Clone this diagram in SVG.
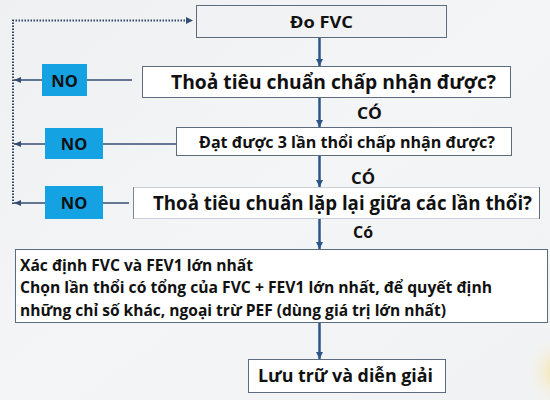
<svg xmlns="http://www.w3.org/2000/svg" width="550" height="400" viewBox="0 0 550 400">
  <defs>
    <linearGradient id="bg" x1="0" y1="0" x2="1" y2="1">
      <stop offset="0" stop-color="#eef0f2"/>
      <stop offset="0.5" stop-color="#f4f5f7"/>
      <stop offset="1" stop-color="#f1f2f4"/>
    </linearGradient>
    <radialGradient id="glow" cx="562" cy="372" r="36" gradientUnits="userSpaceOnUse">
      <stop offset="0" stop-color="#f7d77a" stop-opacity="0.85"/>
      <stop offset="0.5" stop-color="#f8e6a8" stop-opacity="0.4"/>
      <stop offset="1" stop-color="#f8f1dc" stop-opacity="0"/>
    </radialGradient>
    <marker id="down" markerUnits="userSpaceOnUse" markerWidth="8" markerHeight="8" refX="7" refY="4" orient="auto">
      <path d="M0,0.5 L7,4 L0,7.5 Z" fill="#2c5488"/>
    </marker>
    <marker id="left" markerUnits="userSpaceOnUse" markerWidth="8" markerHeight="8" refX="7" refY="4" orient="auto">
      <path d="M0,1 L7,4 L0,7 Z" fill="#344d70"/>
    </marker>
    <style>
      .box { fill: #ffffff; stroke: #5d6b7e; stroke-width: 1; }
      .no { fill: #14a2e3; }
      .t { font-family: "Open Sans", "Noto Sans", "DejaVu Sans", sans-serif; font-weight: bold; fill: #111111; }
      .flow { stroke: #2c5488; stroke-width: 2.5; fill: none; marker-end: url(#down); }
      .back { stroke: #344d70; stroke-width: 1.5; fill: none; }
      .dot { stroke: #2f4568; stroke-width: 2; fill: none; stroke-dasharray: 1.5 1.5; }
    </style>
  </defs>

  <!-- background -->
  <rect x="0" y="0" width="550" height="400" fill="url(#bg)"/>
  <rect x="480" y="320" width="70" height="80" fill="url(#glow)"/>

  <!-- connectors -->
  <g id="connectors">
    <line class="flow" x1="319.5" y1="37" x2="319.5" y2="66"/>
    <line class="flow" x1="319.5" y1="98" x2="319.5" y2="127"/>
    <line class="flow" x1="319.5" y1="156" x2="319.5" y2="187"/>
    <line class="flow" x1="319.5" y1="219" x2="319.5" y2="249"/>
    <line class="flow" x1="319.5" y1="323" x2="319.5" y2="359"/>

    <!-- "no" branches back to the left rail -->
    <line class="back" x1="132" y1="80" x2="87" y2="80"/>
    <line class="back" x1="42" y1="80" x2="14" y2="80" marker-end="url(#left)"/>
    <line class="back" x1="176" y1="144" x2="103" y2="144"/>
    <line class="back" x1="45" y1="144" x2="14" y2="144" marker-end="url(#left)"/>
    <line class="back" x1="129" y1="203" x2="103" y2="203"/>
    <line class="back" x1="45" y1="203" x2="14" y2="203" marker-end="url(#left)"/>

    <!-- dotted return loop to the start -->
    <path class="dot" d="M13,204 L13,20.5 L186,20.5"/>
    <path d="M186,17 L193,20.5 L186,24 Z" fill="#344d70"/>

    <!-- flow labels -->
    <text class="t" x="357" y="119" font-size="16.5" textLength="25" lengthAdjust="spacingAndGlyphs">CÓ</text>
    <text class="t" x="351" y="184" font-size="16.5" textLength="24" lengthAdjust="spacingAndGlyphs">CÓ</text>
    <text class="t" x="353" y="238" font-size="16.5" textLength="20" lengthAdjust="spacingAndGlyphs">Có</text>
  </g>

  <!-- nodes -->
  <g id="start">
    <rect x="196.5" y="5.5" width="250" height="32" fill="#f1f2f4" stroke="#5d6b7e" stroke-width="1"/>
    <text class="t" x="290" y="28" font-size="16.5" textLength="63" lengthAdjust="spacingAndGlyphs">Đo FVC</text>
  </g>

  <g id="check-acceptable">
    <rect class="box" x="142.5" y="66.5" width="368" height="31"/>
    <text class="t" x="171" y="89" font-size="19" textLength="325" lengthAdjust="spacingAndGlyphs">Thoả tiêu chuẩn chấp nhận được?</text>
  </g>

  <g id="check-three">
    <rect class="box" x="176.5" y="127.5" width="335" height="28"/>
    <text class="t" x="199" y="147.5" font-size="16" textLength="296" lengthAdjust="spacingAndGlyphs">Đạt được 3 lần thổi chấp nhận được?</text>
  </g>

  <g id="check-repeat">
    <rect x="133.5" y="187.5" width="406" height="31" fill="#ffffff" stroke="#c9d0d9" stroke-width="1"/>
    <line x1="133.5" y1="187" x2="133.5" y2="219" stroke="#7a8797" stroke-width="1"/>
    <line x1="539.5" y1="187" x2="539.5" y2="219" stroke="#5d6b7e" stroke-width="1"/>
    <text class="t" x="153" y="210" font-size="19" textLength="379" lengthAdjust="spacingAndGlyphs">Thoả tiêu chuẩn lặp lại giữa các lần thổi?</text>
  </g>

  <g id="no-1">
    <rect class="no" x="42" y="64" width="45" height="32"/>
    <text class="t" x="64.5" y="86.5" font-size="16.5" text-anchor="middle">NO</text>
  </g>
  <g id="no-2">
    <rect class="no" x="45" y="128" width="58" height="31"/>
    <text class="t" x="74" y="150" font-size="16.5" text-anchor="middle">NO</text>
  </g>
  <g id="no-3">
    <rect class="no" x="45" y="186" width="58" height="33"/>
    <text class="t" x="74" y="209" font-size="16.5" text-anchor="middle">NO</text>
  </g>

  <g id="select-best">
    <rect class="box" x="15.5" y="249.5" width="532" height="73"/>
    <text class="t" x="20" y="271" font-size="16" textLength="233" lengthAdjust="spacingAndGlyphs">Xác định FVC và FEV1 lớn nhất</text>
    <text class="t" x="20" y="293" font-size="16" textLength="472" lengthAdjust="spacingAndGlyphs">Chọn lần thổi có tổng của FVC + FEV1 lớn nhất, để quyết định</text>
    <text class="t" x="20" y="316" font-size="16" textLength="426" lengthAdjust="spacingAndGlyphs">những chỉ số khác, ngoại trừ PEF (dùng giá trị lớn nhất)</text>
  </g>

  <g id="store">
    <rect class="box" x="248.5" y="359.5" width="197" height="33"/>
    <text class="t" x="258" y="382" font-size="17" textLength="175" lengthAdjust="spacingAndGlyphs">Lưu trữ và diễn giải</text>
  </g>
</svg>
